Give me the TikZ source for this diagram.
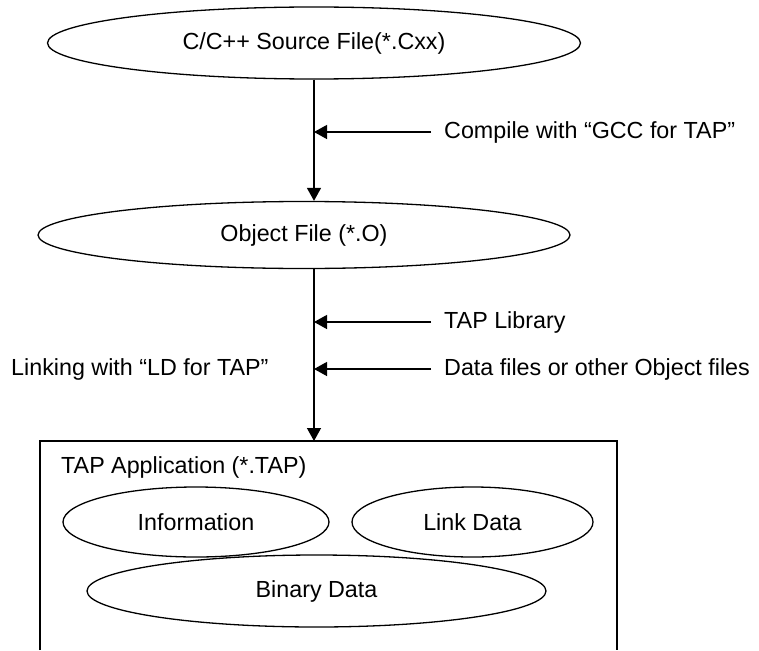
\documentclass[tikz,border=0pt]{standalone}
\usepackage{fontspec}
\setmainfont{Liberation Sans}
\usetikzlibrary{shapes.geometric,arrows.meta}
\begin{document}
\begin{tikzpicture}[x=1pt,y=-1pt,
  every node/.style={font=\fontsize{23.3}{28}\selectfont},
  oval/.style={ellipse, draw, line width=1.3pt, inner sep=0pt},
  flow/.style={line width=1.3pt, -{Triangle[length=13pt,width=14pt]}},
  lbl/.style={anchor=west, inner ysep=0pt, inner xsep=13pt},
  plain/.style={anchor=west, inner sep=0pt},
  frame/.style={line width=1.3pt},
]
\useasboundingbox (0,0) rectangle (759,650);

% main flow ovals
\node[oval, minimum width=533pt, minimum height=72pt] (src) at (314,43) {C/C++ Source File(*.Cxx)};
\node[oval, minimum width=532pt, minimum height=67pt] (obj) at (304,235) {Object File (*.O)};

% side labels
\node[lbl] (gcc) at (431,132) {Compile with “GCC for TAP”};
\node[lbl] (lib) at (431,322) {TAP Library};
\node[lbl] (dat) at (431,369) {Data files or other Object files};
\node[plain] (lnk) at (11,369) {Linking with “LD for TAP”};

% application frame (open at the bottom)
\coordinate (bl) at (40,650);
\coordinate (tl) at (40,441);
\coordinate (tr) at (617,441);
\coordinate (br) at (617,650);
\coordinate (boxtop) at (314,441);
\draw[frame] (bl) -- (tl) -- (tr) -- (br);
\node[plain] (app) at (61,467) {TAP Application (*.TAP)};

\node[oval, minimum width=266pt, minimum height=70pt] (info) at (196,522) {Information};
\node[oval, minimum width=241pt, minimum height=70pt] (link) at (472.5,522) {Link Data};
\node[oval, minimum width=459pt, minimum height=72pt] (bin) at (316.5,591) {Binary Data};

% connectors
\draw[flow] (src.south) -- (src.south |- obj.north);
\draw[flow] (obj.south -| src.south) -- (boxtop);
\draw[flow] (gcc.west) -- (gcc.west -| src.south);
\draw[flow] (lib.west) -- (lib.west -| src.south);
\draw[flow] (dat.west) -- (dat.west -| src.south);
\end{tikzpicture}
\end{document}
